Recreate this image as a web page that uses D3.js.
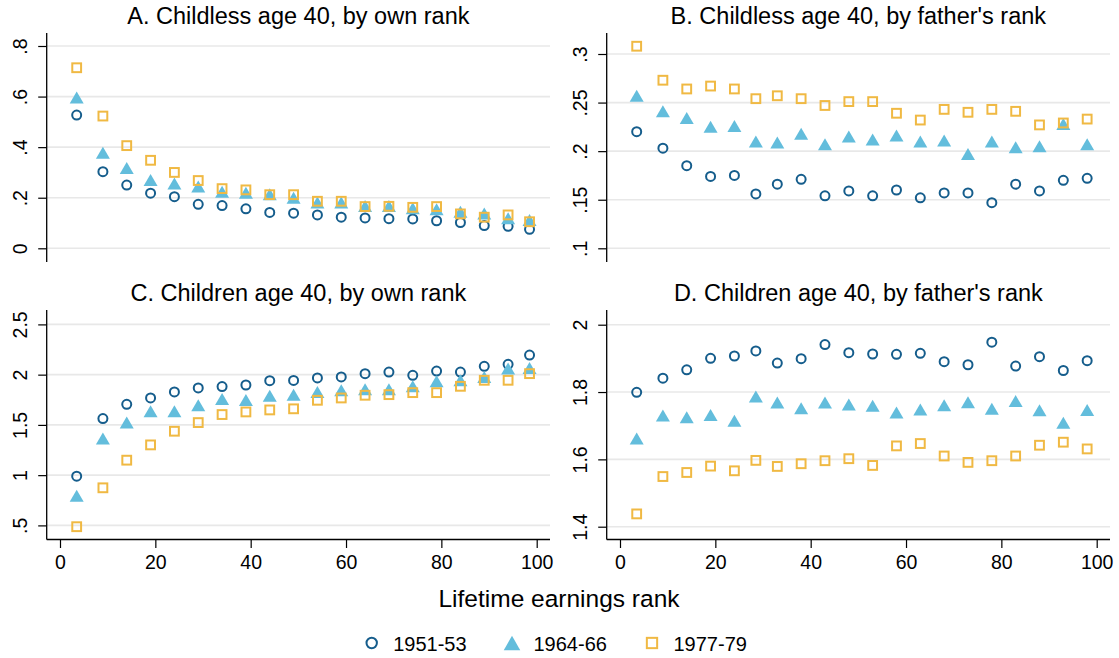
<!DOCTYPE html>
<html><head><meta charset="utf-8">
<script src="https://cdn.jsdelivr.net/npm/d3@7"></script>
<style>
body{margin:0;background:#fff}
svg{display:block}
text{font-family:"Liberation Sans",Arial,Helvetica,sans-serif;fill:#000}
</style>
</head><body>
<svg id="chart" width="1119" height="658"></svg>
<script>
// ---------- data ----------
const seriesNames = ["1951-53", "1964-66", "1977-79"];
const xTicks = [0, 20, 40, 60, 80, 100];
const xTitle = "Lifetime earnings rank";

// mean rank of each ventile bin
const xOwnRank    = [3.5, 9, 14, 19, 24, 29, 34, 39, 44, 49, 54, 59, 64, 69, 74, 79, 84, 89, 94, 98.5];
const xFatherRank = [3.5, 9, 14, 19, 24, 28.5, 33, 38, 43, 48, 53, 58, 63, 68, 73, 78, 83, 88, 93, 98];

const titleA = "A. Childless age 40, by own rank";
const titleB = "B. Childless age 40, by father's rank";
const titleC = "C. Children age 40, by own rank";
const titleD = "D. Children age 40, by father's rank";

const yTicksA = [0, 0.2, 0.4, 0.6, 0.8];
const yTicksB = [0.1, 0.15, 0.2, 0.25, 0.3];
const yTicksC = [0.5, 1, 1.5, 2, 2.5];
const yTicksD = [1.4, 1.6, 1.8, 2];

const a1951 = [0.527, 0.303, 0.250, 0.218, 0.204, 0.174, 0.169, 0.156, 0.142, 0.139, 0.132, 0.123, 0.120, 0.117, 0.116, 0.109, 0.102, 0.090, 0.087, 0.075];
const a1964 = [0.596, 0.378, 0.318, 0.270, 0.256, 0.244, 0.224, 0.220, 0.214, 0.200, 0.181, 0.181, 0.167, 0.167, 0.158, 0.154, 0.145, 0.138, 0.119, 0.112];
const a1977 = [0.714, 0.523, 0.406, 0.348, 0.300, 0.268, 0.236, 0.231, 0.212, 0.212, 0.186, 0.186, 0.165, 0.166, 0.162, 0.165, 0.136, 0.123, 0.132, 0.105];

const b1951 = [0.220, 0.203, 0.185, 0.174, 0.175, 0.156, 0.166, 0.171, 0.154, 0.159, 0.154, 0.160, 0.152, 0.157, 0.157, 0.147, 0.166, 0.159, 0.170, 0.172];
const b1964 = [0.257, 0.241, 0.234, 0.225, 0.226, 0.210, 0.209, 0.218, 0.207, 0.215, 0.212, 0.216, 0.210, 0.211, 0.197, 0.210, 0.204, 0.205, 0.228, 0.207];
const b1977 = [0.308, 0.273, 0.264, 0.267, 0.264, 0.254, 0.257, 0.254, 0.247, 0.251, 0.251, 0.239, 0.232, 0.243, 0.240, 0.243, 0.241, 0.227, 0.229, 0.233];

const c1951 = [0.990, 1.563, 1.705, 1.768, 1.828, 1.868, 1.881, 1.897, 1.940, 1.942, 1.967, 1.977, 2.010, 2.026, 1.993, 2.036, 2.026, 2.083, 2.103, 2.195];
const c1964 = [0.795, 1.364, 1.523, 1.636, 1.636, 1.695, 1.758, 1.748, 1.791, 1.801, 1.828, 1.844, 1.854, 1.854, 1.884, 1.934, 1.944, 1.977, 2.060, 2.066];
const c1977 = [0.487, 0.874, 1.149, 1.301, 1.437, 1.523, 1.603, 1.629, 1.649, 1.660, 1.745, 1.768, 1.795, 1.801, 1.821, 1.821, 1.884, 1.944, 1.944, 2.010];

const d1951 = [1.799, 1.841, 1.866, 1.900, 1.907, 1.922, 1.886, 1.899, 1.941, 1.917, 1.913, 1.912, 1.915, 1.890, 1.881, 1.948, 1.877, 1.905, 1.864, 1.893];
const d1964 = [1.662, 1.730, 1.725, 1.732, 1.715, 1.787, 1.769, 1.752, 1.769, 1.763, 1.759, 1.739, 1.748, 1.761, 1.770, 1.750, 1.773, 1.746, 1.709, 1.747];
const d1977 = [1.438, 1.549, 1.561, 1.580, 1.566, 1.597, 1.579, 1.587, 1.596, 1.602, 1.582, 1.640, 1.647, 1.610, 1.591, 1.596, 1.610, 1.642, 1.651, 1.631];

// ---------- styles / layout ----------
const colors = ["#155d8c", "#63bddc", "#f0b943"];
const fontTick = 19.5, fontTitle = 23.5, fontAxisTitle = 24.5, fontLegend = 20;
const tickLen = 8.5;

const panels = [
  {title: titleA, xs: xOwnRank,    ys: [a1951, a1964, a1977], yTicks: yTicksA,
   left: 46.7, right: 550, top: 33, bottom: 262, xr: [60, 536.7], yd: [0, 0.8], yr: [248.3, 46], xAxis: false},
  {title: titleB, xs: xFatherRank, ys: [b1951, b1964, b1977], yTicks: yTicksB,
   left: 606.7, right: 1110, top: 33, bottom: 262, xr: [620, 1096.7], yd: [0.1, 0.3], yr: [248.3, 54], xAxis: false},
  {title: titleC, xs: xOwnRank,    ys: [c1951, c1964, c1977], yTicks: yTicksC,
   left: 46.7, right: 550, top: 310, bottom: 539.5, xr: [60, 536.7], yd: [0.5, 2.5], yr: [525.4, 324.4], xAxis: true},
  {title: titleD, xs: xFatherRank, ys: [d1951, d1964, d1977], yTicks: yTicksD,
   left: 606.7, right: 1110, top: 310, bottom: 539.5, xr: [620, 1096.7], yd: [1.4, 2], yr: [526.7, 324.7], xAxis: true}
];

const svg = d3.select("#chart");
const fmtY = d => d === 0 ? "0" : d3.format("~g")(d).replace(/^0\./, ".");

function triPath(w, h) {
  return `M0,${-h/2}L${w/2},${h/2}L${-w/2},${h/2}Z`;
}
function drawMarker(sel, k, big) {
  if (k === 0) {
    sel.append("circle").attr("r", big ? 5.2 : 4.5).attr("fill", "none")
      .attr("stroke", colors[0]).attr("stroke-width", 2);
  } else if (k === 1) {
    sel.append("path").attr("d", big ? triPath(16.5, 14.5) : triPath(14, 12)).attr("fill", colors[1]);
  } else {
    const s = big ? 10.3 : 8.8;
    sel.append("rect").attr("x", -s/2).attr("y", -s/2).attr("width", s).attr("height", s)
      .attr("fill", "none").attr("stroke", colors[2]).attr("stroke-width", 2);
  }
}

panels.forEach(p => {
  const x = d3.scaleLinear().domain([0, 100]).range(p.xr);
  const y = d3.scaleLinear().domain(p.yd).range(p.yr);
  const g = svg.append("g");

  // gridlines
  g.selectAll("line.grid").data(p.yTicks).join("line")
    .attr("x1", p.left).attr("x2", p.right)
    .attr("y1", d => y(d)).attr("y2", d => y(d))
    .attr("stroke", "#e8e8e8").attr("stroke-width", 1.6);

  // y axis
  const ya = g.append("g").attr("transform", `translate(${p.left},0)`)
    .call(d3.axisLeft(y).tickValues(p.yTicks).tickSize(tickLen).tickFormat(fmtY));
  ya.select(".domain").remove();
  ya.selectAll(".tick line").attr("stroke", "#000").attr("stroke-width", 1.2);
  ya.selectAll(".tick text")
    .attr("x", null).attr("dy", null).attr("y", null)
    .attr("text-anchor", "middle")
    .attr("transform", "translate(-20,0) rotate(-90)")
    .style("font-size", fontTick + "px").style("font-family", "Liberation Sans, Arial, sans-serif").attr("fill", "#000");
  g.append("line").attr("x1", p.left).attr("x2", p.left).attr("y1", p.top).attr("y2", p.bottom)
    .attr("stroke", "#000").attr("stroke-width", 1.3);

  // x axis
  if (p.xAxis) {
    const xa = g.append("g").attr("transform", `translate(0,${p.bottom})`)
      .call(d3.axisBottom(x).tickValues(xTicks).tickSize(tickLen));
    xa.select(".domain").remove();
    xa.selectAll(".tick line").attr("stroke", "#000").attr("stroke-width", 1.2);
    xa.selectAll(".tick text").attr("y", 15.5).attr("dy", "0.71em")
      .style("font-size", fontTick + "px").style("font-family", "Liberation Sans, Arial, sans-serif").attr("fill", "#000");
    g.append("line").attr("x1", p.left).attr("x2", p.right).attr("y1", p.bottom).attr("y2", p.bottom)
      .attr("stroke", "#000").attr("stroke-width", 1.3);
  }

  // title
  g.append("text").attr("x", (p.left + p.right) / 2).attr("y", p.top - 9)
    .attr("text-anchor", "middle").style("font-size", fontTitle + "px").text(p.title);

  // markers
  p.ys.forEach((vals, k) => {
    g.append("g").selectAll("g").data(vals).join("g")
      .attr("transform", (d, i) => `translate(${x(p.xs[i])},${y(d)})`)
      .each(function() { drawMarker(d3.select(this), k, false); });
  });
});

// x axis title
svg.append("text").attr("x", 559).attr("y", 607).attr("text-anchor", "middle")
  .style("font-size", fontAxisTitle + "px").text(xTitle);

// legend
const legendX = [371.7, 512, 652];
const lg = svg.append("g");
seriesNames.forEach((name, k) => {
  const item = lg.append("g").attr("transform", `translate(${legendX[k]},643)`);
  drawMarker(item, k, true);
  item.append("text").attr("x", 21.5).attr("y", 8.3).style("font-size", fontLegend + "px").text(name);
});
</script>
</body></html>
